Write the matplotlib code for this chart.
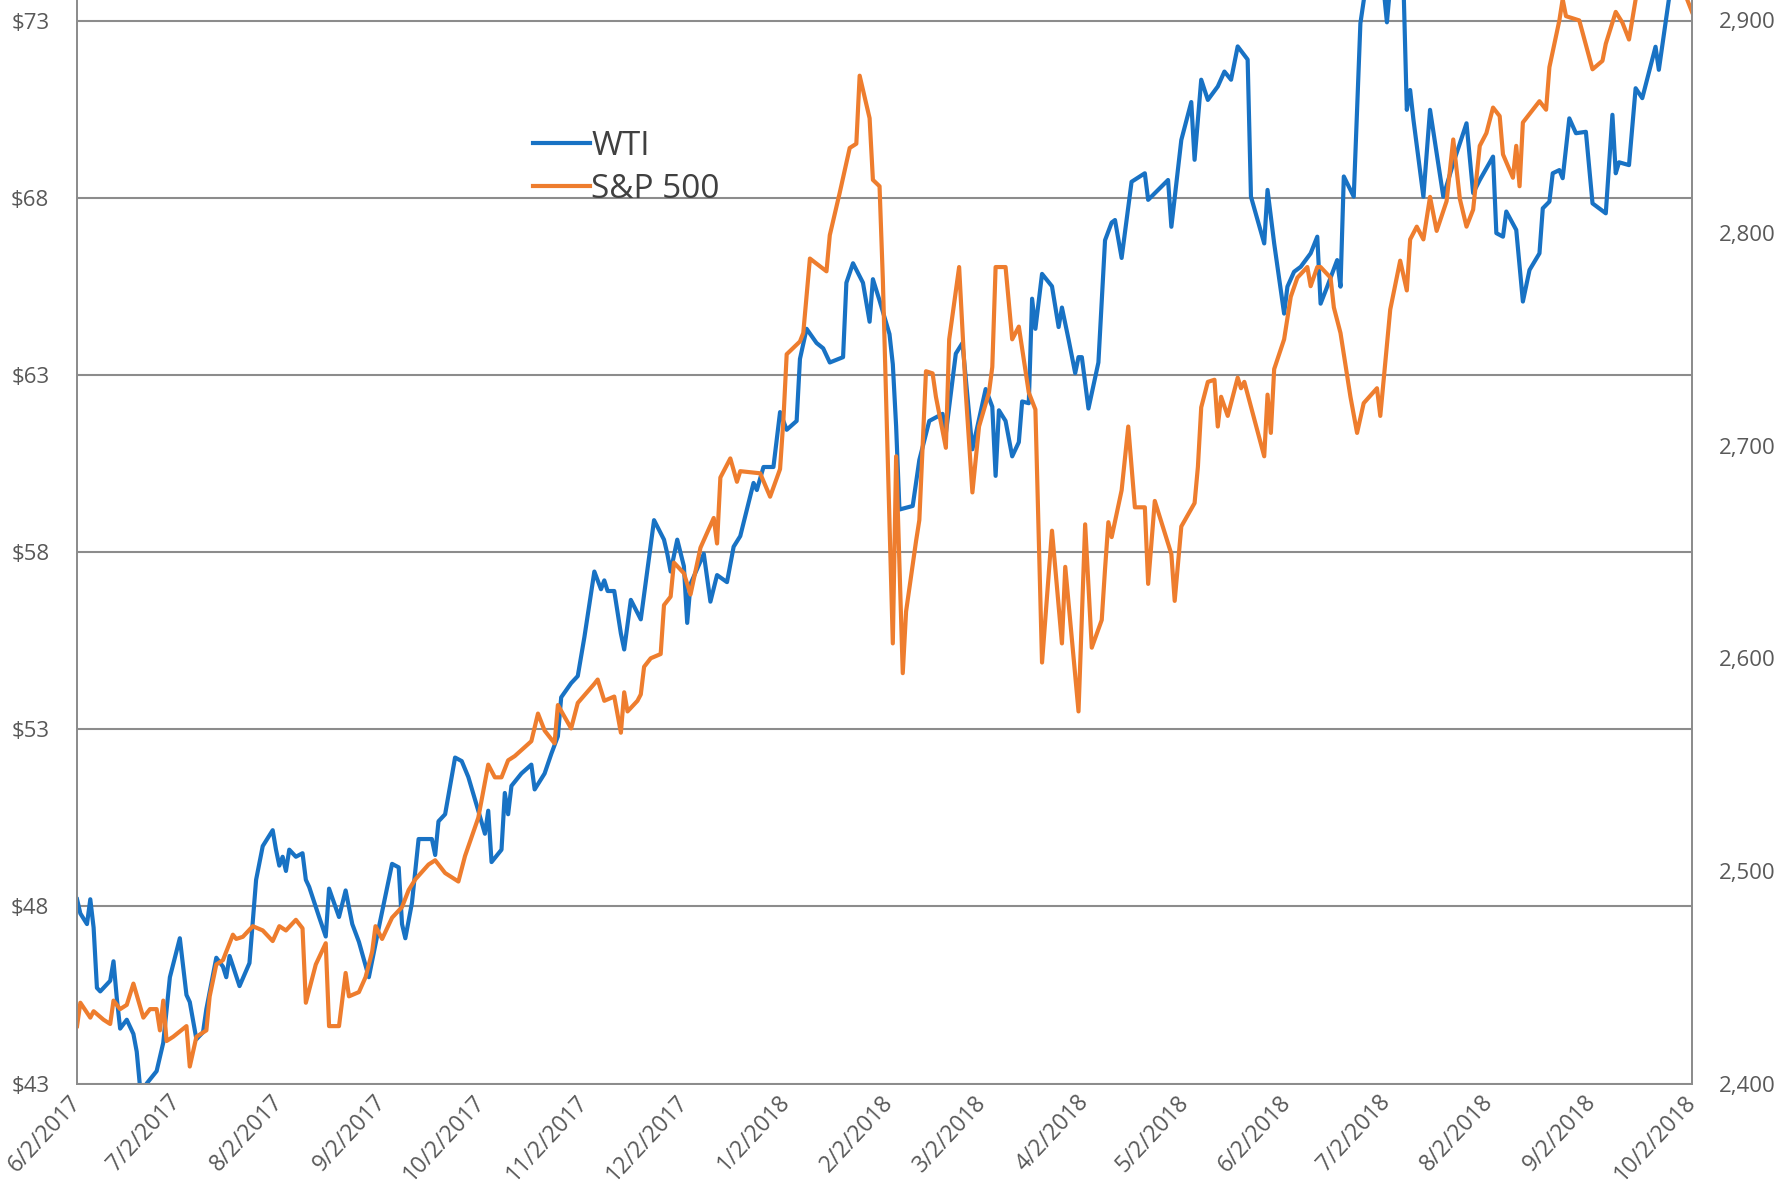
import pandas as pd
import matplotlib
matplotlib.use("Agg")
import matplotlib.pyplot as plt
from matplotlib.ticker import FuncFormatter

plt.rcParams["font.family"] = ["Open Sans", "DejaVu Sans"]

START = pd.Timestamp("2017-06-02")
END = pd.Timestamp("2018-10-02")

# WTI crude, $/bbl -- x is days after 6/2/2017
wti_day = [0, 1, 3, 4, 5, 6, 7, 10, 11, 12, 13, 15, 17, 18, 19, 20, 21, 24, 26, 28,
           31, 33, 34, 36, 38, 39, 42, 44, 45, 46, 49, 52, 54, 56, 59, 60, 61, 62, 63, 64,
           66, 68, 69, 70, 73, 75, 76, 79, 81, 83, 85, 88, 91, 95, 97, 98, 99, 101, 103, 107,
           108, 109, 111, 114, 116, 118, 121, 123, 124, 125, 128, 129, 130, 131, 134, 137, 138, 141, 143, 145,
           146, 149, 151, 153, 156, 157, 158, 159, 160, 162, 164, 165, 167, 170, 174, 177, 178, 179, 181, 183,
           184, 185, 189, 191, 193, 196, 198, 200, 204, 205, 207, 210, 212, 214, 217, 218, 220, 223, 225, 227,
           231, 232, 234, 237, 239, 240, 242, 245, 246, 247, 248, 252, 254, 257, 261, 262, 265, 267, 270, 274,
           276, 277, 278, 280, 282, 284, 285, 287, 288, 289, 291, 294, 296, 297, 299, 301, 302, 303, 305, 308,
           310, 312, 313, 315, 318, 322, 323, 326, 329, 330, 333, 336, 337, 339, 341, 344, 346, 348, 350, 353,
           354, 358, 359, 361, 364, 365, 367, 369, 372, 374, 375, 377, 380, 381, 382, 385, 387, 389, 392, 394,
           395, 396, 398, 400, 401, 402, 403, 406, 408, 412, 415, 419, 421, 423, 427, 428, 430, 431, 434, 436,
           438, 441, 442, 444, 445, 447, 448, 450, 452, 455, 457, 461, 463, 464, 465, 468, 470, 472, 476, 477,
           480, 483, 487]
wti_usd = [48.2, 47.8, 47.5, 48.2, 47.4, 45.7, 45.6, 45.9, 46.45, 45.4, 44.55, 44.8, 44.4, 43.9, 42.9, 42.7, 43.0, 43.35, 44.15, 46.0,
           47.1, 45.5, 45.3, 44.25, 44.45, 45.1, 46.55, 46.3, 46.0, 46.6, 45.75, 46.4, 48.75, 49.7, 50.15, 49.6, 49.15, 49.4, 49.0, 49.6,
           49.4, 49.5, 48.75, 48.55, 47.7, 47.15, 48.5, 47.7, 48.45, 47.5, 47.0, 46.0, 47.4, 49.2, 49.1, 47.5, 47.1, 48.1, 49.9, 49.9,
           49.45, 50.4, 50.6, 52.2, 52.1, 51.65, 50.7, 50.05, 50.7, 49.25, 49.6, 51.2, 50.6, 51.4, 51.75, 52.0, 51.3, 51.75, 52.3, 52.8,
           53.9, 54.3, 54.5, 55.6, 57.45, 57.2, 56.95, 57.2, 56.9, 56.9, 55.7, 55.25, 56.65, 56.1, 58.9, 58.35, 57.95, 57.45, 58.35, 57.6,
           56.0, 57.1, 57.95, 56.6, 57.35, 57.15, 58.15, 58.45, 59.95, 59.75, 60.4, 60.4, 61.95, 61.45, 61.7, 63.45, 64.3, 63.9, 63.75, 63.35,
           63.5, 65.6, 66.15, 65.6, 64.5, 65.7, 65.1, 64.15, 63.3, 61.55, 59.2, 59.3, 60.6, 61.7, 61.9, 61.35, 63.6, 63.9, 60.9, 62.6,
           62.1, 60.15, 62.0, 61.7, 60.7, 61.1, 62.25, 62.2, 65.15, 64.3, 65.85, 65.5, 64.35, 64.9, 64.0, 63.05, 63.5, 63.5, 62.05, 63.35,
           66.8, 67.3, 67.37, 66.3, 68.45, 68.69, 67.94, 68.22, 68.5, 67.18, 69.63, 70.7, 69.07, 71.33, 70.76, 71.14, 71.56, 71.33, 72.27, 71.9,
           68.03, 66.71, 68.22, 66.71, 64.73, 65.49, 65.91, 66.05, 66.43, 66.9, 65.01, 65.49, 66.24, 65.49, 68.6, 68.03, 72.92, 74.2, 74.4, 73.9,
           72.95, 74.0, 74.3, 74.0, 70.48, 71.04, 70.2, 68.03, 70.48, 68.03, 68.97, 70.1, 68.13, 68.5, 69.16, 67.0, 66.9, 67.61, 67.09, 65.07,
           65.96, 66.43, 67.7, 67.89, 68.69, 68.78, 68.55, 70.24, 69.82, 69.86, 67.84, 67.56, 70.34, 68.69, 69.0, 68.92, 71.09, 70.81, 72.26, 71.61,
           73.58, 74.5, 75.2]

# S&P 500 index -- x is days after 6/2/2017
spx_day = [0, 1, 4, 5, 8, 10, 11, 13, 15, 17, 20, 22, 24, 25, 26, 27, 29, 33, 34, 36,
           38, 39, 40, 42, 44, 47, 48, 50, 53, 56, 59, 61, 63, 66, 68, 69, 72, 75, 76, 79,
           81, 82, 85, 87, 89, 90, 92, 95, 98, 100, 102, 106, 108, 111, 115, 117, 119, 121, 124, 126,
           128, 130, 132, 137, 139, 141, 142, 144, 145, 149, 151, 156, 157, 159, 162, 164, 165, 166, 169, 170,
           171, 173, 176, 177, 179, 180, 183, 185, 188, 192, 193, 194, 197, 199, 200, 206, 209, 212, 213, 214,
           218, 219, 221, 226, 227, 230, 233, 235, 236, 239, 240, 242, 243, 246, 247, 249, 250, 253, 254, 256,
           258, 259, 262, 263, 266, 268, 270, 272, 275, 276, 277, 280, 282, 284, 287, 289, 291, 294, 297, 298,
           302, 304, 306, 309, 310, 311, 312, 315, 317, 319, 322, 323, 325, 330, 331, 333, 337, 338, 339, 341,
           343, 344, 345, 347, 350, 351, 352, 358, 359, 360, 361, 364, 366, 368, 371, 372, 374, 375, 378, 379,
           381, 384, 386, 388, 392, 393, 396, 399, 401, 402, 404, 406, 408, 410, 413, 415, 417, 419, 421, 423,
           425, 427, 429, 430, 433, 434, 435, 436, 439, 441, 443, 444, 447, 448, 449, 453, 457, 460, 461, 464,
           466, 468, 470, 473, 476, 479, 482, 485, 487]
spx_val = [2427, 2438, 2431, 2434, 2430, 2428, 2439, 2435, 2437, 2447, 2431, 2435, 2435, 2425, 2439, 2420, 2422, 2427, 2408, 2422,
           2424, 2425, 2441, 2456, 2458, 2470, 2468, 2469, 2474, 2472, 2467, 2474, 2472, 2477, 2473, 2438, 2456, 2466, 2427, 2427,
           2452, 2441, 2443, 2450, 2462, 2474, 2468, 2478, 2483, 2491, 2496, 2503, 2505, 2499, 2495, 2507, 2516, 2525, 2550, 2544,
           2544, 2552, 2554, 2561, 2574, 2566, 2564, 2560, 2578, 2567, 2579, 2588, 2590, 2580, 2582, 2565, 2584, 2575, 2580, 2583,
           2596, 2600, 2602, 2625, 2629, 2645, 2640, 2630, 2652, 2666, 2654, 2685, 2694, 2683, 2688, 2687, 2676, 2689, 2712, 2743,
           2749, 2753, 2788, 2782, 2799, 2819, 2840, 2842, 2874, 2854, 2825, 2822, 2778, 2607, 2695, 2593, 2622, 2655, 2665, 2735,
           2734, 2723, 2699, 2750, 2784, 2725, 2678, 2709, 2725, 2737, 2784, 2784, 2750, 2756, 2725, 2717, 2598, 2660, 2607, 2643,
           2575, 2663, 2605, 2618, 2642, 2664, 2657, 2679, 2709, 2671, 2671, 2635, 2674, 2649, 2627, 2662, 2673, 2690, 2718, 2730,
           2731, 2709, 2723, 2714, 2732, 2727, 2730, 2695, 2724, 2706, 2736, 2750, 2770, 2779, 2784, 2775, 2784, 2784, 2779, 2765,
           2753, 2723, 2706, 2720, 2727, 2714, 2764, 2787, 2773, 2797, 2803, 2797, 2817, 2801, 2815, 2844, 2816, 2803, 2811, 2841,
           2847, 2859, 2855, 2837, 2826, 2841, 2822, 2852, 2858, 2862, 2858, 2878, 2900, 2910, 2902, 2900, 2877, 2881, 2889, 2904,
           2899, 2891, 2910, 2918, 2925, 2930, 2925, 2912, 2904]

wti_ticks = [43, 48, 53, 58, 63, 68, 73]
spx_ticks = [2400, 2500, 2600, 2700, 2800, 2900]

BLUE = "#1872c4"
ORANGE = "#ee7d2e"
GRID = "#8c8c8c"
TXT = "#595959"

wti_x = START + pd.to_timedelta(wti_day, unit="D")
spx_x = START + pd.to_timedelta(spx_day, unit="D")
month_ticks = pd.date_range(START, END, freq=pd.DateOffset(months=1))

fig = plt.figure(figsize=(17.79, 11.92), dpi=100)
ax = fig.add_axes([0.0433, 0.0910, 0.9078, 0.909])
ax2 = ax.twinx()

l1, = ax.plot(wti_x, wti_usd, color=BLUE, lw=3.0, label="WTI")
l2, = ax2.plot(spx_x, spx_val, color=ORANGE, lw=3.0, label="S&P 500")

ax.set_xlim(START, END)
ax.set_ylim(43, 73.58)
ax2.set_ylim(2400, 2909.6)

ax.set_yticks(wti_ticks)
ax.yaxis.set_major_formatter(FuncFormatter(lambda v, p: f"${v:.0f}"))
ax2.set_yticks(spx_ticks)
ax2.yaxis.set_major_formatter(FuncFormatter(lambda v, p: f"{v:,.0f}"))
ax.grid(axis="y", color=GRID, lw=1.5)

ax.set_xticks(month_ticks)
ax.set_xticklabels([f"{d.month}/{d.day}/{d.year}" for d in month_ticks],
                   rotation=47, ha="right", va="center", rotation_mode="anchor")

ax.tick_params(axis="y", length=0, pad=20, labelsize=16, labelcolor=TXT)
ax2.tick_params(axis="y", length=0, pad=19, labelsize=16, labelcolor=TXT)
ax.tick_params(axis="x", length=0, pad=11, labelsize=16.5, labelcolor=TXT)

for a in (ax, ax2):
    a.spines["top"].set_visible(False)
    for s in ("left", "right", "bottom"):
        a.spines[s].set_color(GRID)
        a.spines[s].set_linewidth(1.3)

fig.legend([l1, l2], ["WTI", "S&P 500"], loc="upper left", bbox_to_anchor=(0.2996, 0.891),
           frameon=False, fontsize=24, handlelength=1.7, handletextpad=0.05,
           labelspacing=0.3, borderpad=0, borderaxespad=0, labelcolor="#404040")

fig.savefig("out.png", dpi=100)
